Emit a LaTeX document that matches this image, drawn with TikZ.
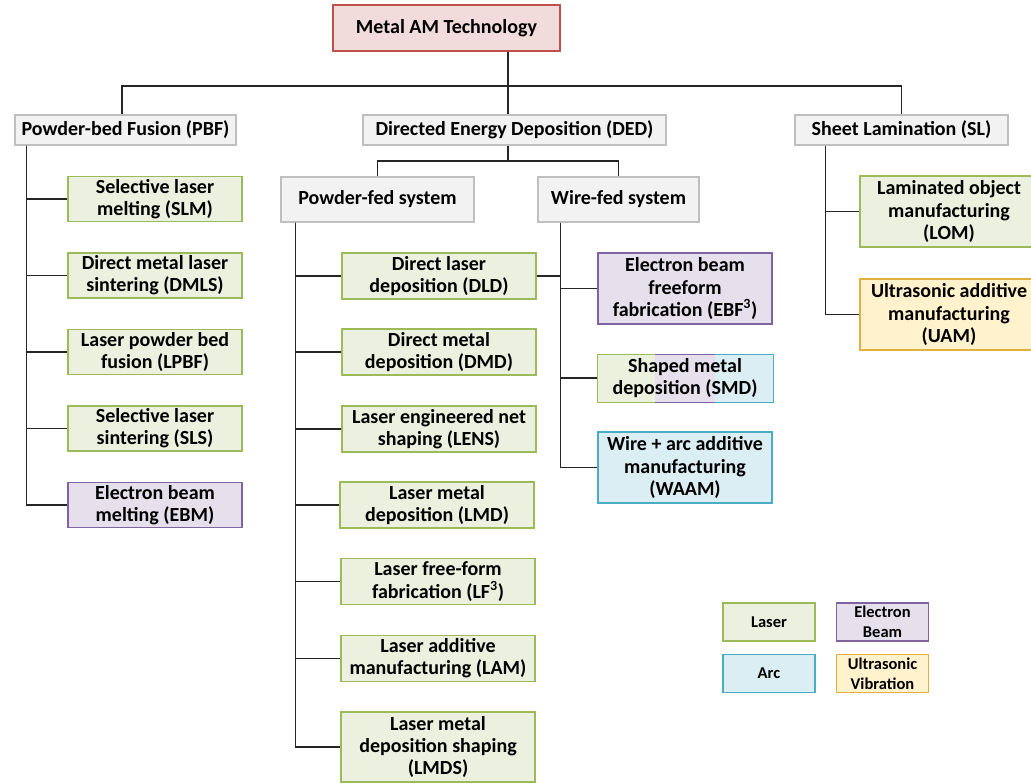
\documentclass[tikz,border=0pt]{standalone}
\usepackage{fontspec}
\setmainfont{Carlito}
\usetikzlibrary{backgrounds}

\definecolor{grayfill}{HTML}{F2F2F2}
\definecolor{graydraw}{HTML}{BFBFBF}
\definecolor{redfill}{HTML}{F2DCDB}
\definecolor{reddraw}{HTML}{C0504D}
\definecolor{greenfill}{HTML}{EBF1DE}
\definecolor{greendraw}{HTML}{9BBB59}
\definecolor{purplefill}{HTML}{E6E0EC}
\definecolor{purpledraw}{HTML}{8064A2}
\definecolor{bluefill}{HTML}{DAEEF3}
\definecolor{bluedraw}{HTML}{4BACC6}
\definecolor{yellowfill}{HTML}{FFF2CC}
\definecolor{yellowdraw}{HTML}{E0B040}

\begin{document}
\begin{tikzpicture}[x=1pt,y=-1pt,
  box/.style={rectangle, inner sep=0pt, align=center, line width=1.4pt,
    font=\bfseries\fontsize{20}{22.3}\selectfont},
  rootbox/.style={box, fill=redfill, draw=reddraw},
  catbox/.style={box, fill=grayfill, draw=graydraw},
  laserbox/.style={box, fill=greenfill, draw=greendraw},
  ebeambox/.style={box, fill=purplefill, draw=purpledraw},
  arcbox/.style={box, fill=bluefill, draw=bluedraw},
  ultrabox/.style={box, fill=yellowfill, draw=yellowdraw},
  keybox/.style={minimum width=92, minimum height=38,
    font=\bfseries\fontsize{16.5}{20}\selectfont},
  link/.style={line width=1.2pt, draw=black!85}]
\useasboundingbox (0,0) rectangle (1031,784);

% root and first-level categories
\node[rootbox, minimum width=227, minimum height=46] (top) at (446.5,28) {Metal AM Technology};
\node[catbox, minimum width=221, minimum height=30] (pbf) at (125.5,130) {Powder-bed Fusion (PBF)};
\node[catbox, minimum width=303, minimum height=30] (ded) at (514.5,130) {Directed Energy Deposition (DED)};
\node[catbox, minimum width=213, minimum height=30] (sl) at (901.5,130) {Sheet Lamination (SL)};

% DED sub-systems
\node[catbox, minimum width=193, minimum height=45] (powder) at (377.5,199.5) {Powder-fed system};
\node[catbox, minimum width=161, minimum height=45] (wire) at (618.5,199.5) {Wire-fed system};

% powder-bed fusion processes
\begin{scope}[every node/.append style={minimum width=174, minimum height=45}]
\node[laserbox] (slm) at (155,199) {Selective laser\\melting (SLM)};
\node[laserbox] (dmls) at (155,275.5) {Direct metal laser\\sintering (DMLS)};
\node[laserbox] (lpbf) at (155,352) {Laser powder bed\\fusion (LPBF)};
\node[laserbox] (sls) at (155,428.5) {Selective laser\\sintering (SLS)};
\node[ebeambox] (ebm) at (155,505) {Electron beam\\melting (EBM)};
\end{scope}

% powder-fed DED processes
\begin{scope}[every node/.append style={minimum width=194, minimum height=46}]
\node[laserbox] (dld) at (439,276) {Direct laser\\deposition (DLD)};
\node[laserbox] (dmd) at (439,352) {Direct metal\\deposition (DMD)};
\node[laserbox] (lens) at (439,429) {Laser engineered net\\shaping (LENS)};
\node[laserbox] (lmd) at (437,505) {Laser metal\\deposition (LMD)};
\node[laserbox] (lf) at (438,581.5) {Laser free-form\\fabrication (LF\textsuperscript{3})};
\node[laserbox] (lam) at (438,658.5) {Laser additive\\manufacturing (LAM)};
\node[laserbox, minimum height=70] (lmds) at (438,747) {Laser metal\\deposition shaping\\(LMDS)};
\end{scope}

% wire-fed DED processes
\node[ebeambox, minimum width=174, minimum height=71] (ebf) at (685,288.5) {Electron beam\\freeform\\fabrication (EBF\textsuperscript{3})};
\node[box, minimum width=174, minimum height=46] (smd) at (685,378) {Shaped metal\\deposition (SMD)};
\node[arcbox, minimum width=174, minimum height=71] (waam) at (685,467.5) {Wire + arc additive\\manufacturing\\(WAAM)};

% SMD uses all three energy sources: split fill and border
\begin{scope}[on background layer, line width=1.4pt]
\fill[greenfill] (smd.north west) rectangle ([xshift=58]smd.south west);
\fill[purplefill] ([xshift=58]smd.north west) rectangle ([xshift=-58]smd.south east);
\fill[bluefill] ([xshift=-58]smd.north east) rectangle (smd.south east);
\draw[greendraw] ([xshift=58]smd.north west) -- (smd.north west) -- (smd.south west) -- ([xshift=58]smd.south west);
\draw[purpledraw] ([xshift=58]smd.north west) -- ([xshift=-58]smd.north east);
\draw[purpledraw] ([xshift=58]smd.south west) -- ([xshift=-58]smd.south east);
\draw[bluedraw] ([xshift=-58]smd.north east) -- (smd.north east) -- (smd.south east) -- ([xshift=-58]smd.south east);
\end{scope}

% sheet lamination processes
\begin{scope}[every node/.append style={minimum width=178, minimum height=71}]
\node[laserbox] (lom) at (949,211.5) {Laminated object\\manufacturing\\(LOM)};
\node[ultrabox] (uam) at (949,314.5) {Ultrasonic additive\\manufacturing\\(UAM)};
\end{scope}

% legend
\node[laserbox, keybox] (kl) at (769,622) {Laser};
\node[ebeambox, keybox] (ke) at (882.5,622) {Electron\\Beam};
\node[arcbox, keybox] (ka) at (769,673.5) {Arc};
\node[ultrabox, keybox] (ku) at (882.5,673.5) {Ultrasonic\\Vibration};

% tree connectors
\coordinate (hub) at (508,86);
\draw[link] (top.south -| hub) -- (hub);
\draw[link] ([xshift=-3.5]pbf.north) |- (hub) -| (sl.north);
\draw[link] (hub) -- (hub |- ded.north);

\coordinate (split) at (508,161);
\draw[link] (ded.south -| split) -- (split);
\draw[link] (powder.north) |- (split) -| (wire.north);

\coordinate (pbfcol) at ([xshift=12]pbf.south west);
\foreach \n in {slm,dmls,lpbf,sls,ebm} \draw[link] (pbfcol) |- (\n.west);

\coordinate (pcol) at ([xshift=15]powder.south west);
\foreach \n in {dld,dmd,lens,lmd,lf,lam,lmds} \draw[link] (pcol) |- (\n.west);

\coordinate (wcol) at ([xshift=23]wire.south west);
\foreach \n in {ebf,smd,waam} \draw[link] (wcol) |- (\n.west);
\draw[link] (dld.east) -- (dld.east -| wcol);

\coordinate (slcol) at ([xshift=31]sl.south west);
\foreach \n in {lom,uam} \draw[link] (slcol) |- (\n.west);
\end{tikzpicture}
\end{document}
